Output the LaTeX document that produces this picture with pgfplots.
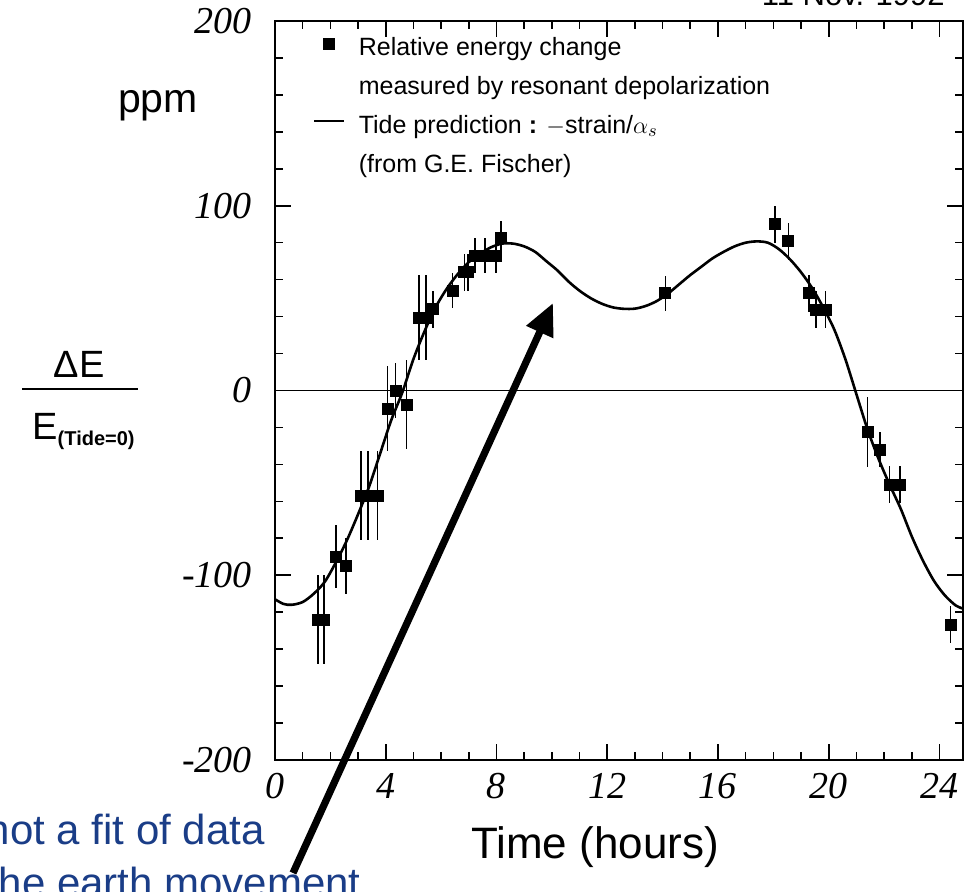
\documentclass[border=0pt]{standalone}
\usepackage{fontspec}
\setmainfont{Liberation Serif}
\setsansfont{Liberation Sans}
\usepackage{pgfplots}
\pgfplotsset{compat=1.18}
\usetikzlibrary{arrows.meta}
\definecolor{noteblue}{RGB}{26,61,135}

\pgfplotstableread{
x y e
1.56 -124 24
1.76 -124 24
2.2 -90 17
2.56 -95 15
3.1 -57 24
3.35 -57 24
3.7 -57 24
4.07 -10 23
4.35 0 15
4.75 -7.6 24
5.2 39.5 23
5.45 39.5 23
5.7 44 10
6.41 54 9.5
6.84 64 10
6.98 64 10
7.22 73 9.6
7.58 73 9.6
7.98 73 9.6
8.16 82.5 9.5
14.1 52.6 9.6
18.06 90 10
18.54 80.7 10
19.29 52.6 10
19.53 43.6 10
19.89 43.6 10
21.4 -22.5 19
21.85 -32 9.5
22.2 -51 10
22.57 -51 10
24.4 -126.7 10
}\measured

\pgfplotstableread{
x y
0.0 -113
0.3 -115.5
0.6 -116
1.0 -114.5
1.4 -110
1.8 -103.5
2.2 -93
2.6 -81
3.0 -67
3.4 -52
3.8 -34
4.2 -16
4.6 -1
5.0 17
5.4 32
5.8 45
6.2 55
6.6 63
7.0 69.5
7.4 74
7.8 77.5
8.2 79.5
8.6 79.5
9.0 78
9.4 75
9.8 70
10.2 65
10.6 59
11.0 54
11.4 50
11.8 47
12.2 45
12.6 44.2
13.0 44.3
13.4 45.8
13.8 48.5
14.2 52.5
14.6 57.5
15.0 62.5
15.4 67
15.8 71.5
16.2 75
16.6 78
17.0 80
17.4 80.7
17.8 80
18.2 76.5
18.6 71
19.0 64
19.4 55.5
19.8 45
20.2 33
20.6 17
21.0 -2
21.4 -21
21.8 -37
22.2 -51
22.6 -64
23.0 -79
23.4 -92
23.8 -103
24.2 -111
24.6 -116.5
24.85 -118
}\tide

\begin{document}
\begin{tikzpicture}
\useasboundingbox (0,0) rectangle (484.5pt,446pt);
\clip (0,0) rectangle (484.5pt,446pt);
\begin{axis}[
  at={(137.5pt,66pt)}, anchor=south west,
  scale only axis, width=344pt, height=369.5pt,
  xmin=0, xmax=24.85, ymin=-200, ymax=200,
  xtick={0,4,8,12,16,20,24}, xticklabels={0,4,8,12,16,20,24},
  ytick={-200,-100,0,100,200}, yticklabels={-200,-100,0,100,200},
  minor x tick num=3, minor y tick num=4,
  tick align=inside, major tick length=8pt, minor tick length=4pt,
  every tick/.style={black, line width=0.8pt},
  axis line style={line width=1pt},
  tick label style={font=\fontsize{19}{20}\selectfont\itshape},
  yticklabel style={xshift=-8pt},
  xticklabel style={yshift=-3pt},
  legend style={at={(axis description cs:0.055,0.978)}, anchor=north west,
    draw=none, fill=none, inner sep=0pt,
    font=\sffamily\fontsize{12.5}{14}\selectfont,
    row sep=7.4pt, column sep=7pt,
    nodes={inner sep=0pt, text height=9pt, text depth=3pt}},
  legend cell align=left,
]
\addplot[black, line width=0.8pt, forget plot] coordinates {(0,0) (24.85,0)};
\addplot[black, only marks, mark=square*, mark size=2.75pt,
  legend image code/.code={\fill[black] (4.75pt,0.25pt) rectangle (10.25pt,5.75pt);},
  error bars/.cd, y dir=both, y explicit, error mark=none,
  error bar style={line width=0.8pt, black}]
  table[x=x, y=y, y error=e] {\measured};
\addlegendentry{Relative energy change}
\addlegendimage{empty legend}
\addlegendentry{measured by resonant depolarization}
\addplot[black, line width=1.3pt, smooth,
  legend image code/.code={\draw[black, line width=0.8pt] (0pt,3pt) -- (15pt,3pt);}]
  table[x=x, y=y] {\tide};
\addlegendentry{Tide prediction \textbf{:} $-$strain/$\alpha_{s}$}
\addlegendimage{empty legend}
\addlegendentry{(from G.E. Fischer)}
\end{axis}

\begin{scope}[x=0.5pt, y=-0.5pt, shift={(0pt,446pt)}]
  \node[anchor=base east, inner sep=0pt, font=\sffamily\fontsize{15.5}{16}\selectfont] at (945,6) {11 Nov. 1992};
  \node[anchor=base, font=\sffamily\fontsize{20.5}{20}\selectfont] at (158,113) {ppm};
  \node[anchor=base, font=\sffamily\fontsize{19}{19}\selectfont] at (79,378) {ΔE};
  \draw[line width=1.2pt] (22,389) -- (138,389);
  \node[anchor=base west, inner sep=0pt, font=\sffamily\fontsize{19}{19}\selectfont] at (32,440)
     {E\raisebox{-3pt}{\fontsize{10}{10}\selectfont\bfseries (Tide=0)}};
  \node[anchor=center, font=\sffamily\fontsize{22}{22}\selectfont] at (595,847) {Time (hours)};
  \node[anchor=base east, inner sep=0pt, text=noteblue, font=\sffamily\fontsize{21}{21}\selectfont] at (265,845) {not a fit of data};
  \node[anchor=base east, inner sep=0pt, text=noteblue, font=\sffamily\fontsize{21}{21}\selectfont] at (361,898) {the earth movement};
  \draw[line width=3.6pt, -{Triangle[length=16pt,width=14pt]}] (293,873) -- (553,303);
\end{scope}
\end{tikzpicture}
\end{document}
